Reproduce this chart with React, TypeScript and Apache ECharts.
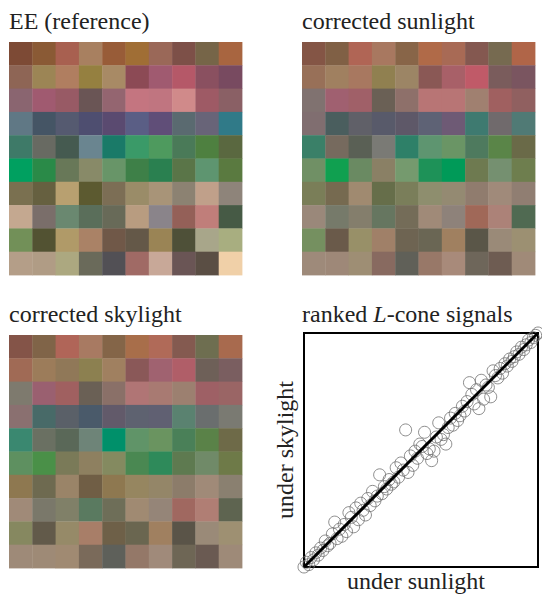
import React, { useEffect, useRef } from "react";
import * as echarts from "echarts";

const cellIndex = ["0", "1", "2", "3", "4", "5", "6", "7", "8", "9"];

const eeColors: string[][] = [
  ["#7d4a35", "#8a5a35", "#a86050", "#a88060", "#985c38", "#a06e35", "#9a6858", "#7d5048", "#766548", "#a86540"],
  ["#8e6555", "#9c8555", "#b07e60", "#958040", "#a88a65", "#8c4a55", "#a05a70", "#b55868", "#8a5060", "#784a60"],
  ["#8a6570", "#a05a70", "#985a65", "#6a5555", "#946570", "#c47580", "#c07580", "#d08a8a", "#9e5a65", "#8a6065"],
  ["#607885", "#455565", "#555a70", "#4e4e70", "#5a4a70", "#5a5e85", "#604e78", "#5a6a70", "#686478", "#307a88"],
  ["#3e7a68", "#686a62", "#455a50", "#6a8590", "#1a7a68", "#3a9a68", "#4e9a5e", "#4a7a58", "#4e8040", "#5a6840"],
  ["#00a060", "#2a8a48", "#687858", "#888a68", "#689568", "#3e8048", "#2a8050", "#5a7548", "#5e9570", "#5a7a40"],
  ["#7a7050", "#666040", "#b8a070", "#5c5a30", "#7c6e55", "#9a8c68", "#a89478", "#8c8272", "#c0a08a", "#8e847a"],
  ["#c4a890", "#7a6e6a", "#6a8870", "#5a6e5a", "#686a58", "#b89c80", "#8a848a", "#946058", "#c07e7a", "#465a45"],
  ["#729058", "#525232", "#b09a68", "#aa8266", "#705848", "#645848", "#9a8455", "#4e5038", "#a8a68a", "#a8ae80"],
  ["#b49e88", "#b09c85", "#aca880", "#6a6a5a", "#525055", "#a06a65", "#c8a898", "#6a5555", "#5a4e44", "#f0d0a8"],
];

const sunColors: string[][] = [
  ["#845545", "#806045", "#b06555", "#a87860", "#886548", "#b06a48", "#a86a55", "#845850", "#766a50", "#b06548"],
  ["#987058", "#a08060", "#a87860", "#908050", "#9c8565", "#8a5855", "#a86068", "#c05a68", "#7a5c5c", "#7a5560"],
  ["#807270", "#a06070", "#a06068", "#6a6055", "#8e706a", "#b87575", "#b87575", "#a08070", "#a06060", "#906060"],
  ["#806e70", "#4a5e5e", "#606068", "#585a6a", "#5e5868", "#5e6275", "#6e5a75", "#3e7a70", "#706a6c", "#507a75"],
  ["#3a8068", "#766a5e", "#5a6055", "#7a7a75", "#2e8068", "#5e9570", "#6a9565", "#4e7a5e", "#5a8548", "#6a6a48"],
  ["#709065", "#10a050", "#6a8a62", "#8a8065", "#759a6e", "#1e9258", "#009a58", "#6e7a50", "#759070", "#6e7e4e"],
  ["#7a7e58", "#766a50", "#a08a70", "#666e4a", "#7a7e5a", "#8e8e6e", "#948a72", "#907c6e", "#a08a7a", "#907e72"],
  ["#9a887a", "#767a6a", "#847e6c", "#667660", "#746c58", "#a08a78", "#8e827a", "#a06858", "#ac8278", "#506a52"],
  ["#759060", "#6a5a4a", "#989068", "#a08068", "#6e6452", "#6a6654", "#a08060", "#5a5648", "#9a8a78", "#9c9072"],
  ["#9e8a7a", "#9e8878", "#9e8e74", "#886a60", "#606058", "#987868", "#a88a7a", "#6e665a", "#6e5c52", "#a08a78"],
];

const skyColors: string[][] = [
  ["#845448", "#806448", "#b06558", "#a87a62", "#846548", "#a86e4a", "#b06a58", "#845a50", "#6e6e50", "#a86a4e"],
  ["#a06a55", "#9c7c5a", "#907858", "#8c8050", "#a08060", "#8a5858", "#a06270", "#b05e68", "#6e6058", "#7a5e60"],
  ["#7e7a6e", "#9a6070", "#a06060", "#6a6055", "#8a7068", "#b07575", "#a87a72", "#9c8070", "#9e6065", "#9a6565"],
  ["#8a7070", "#486a68", "#5a6068", "#4a5a6a", "#625a6a", "#5e6270", "#606072", "#5a8270", "#6a6e6e", "#7a7a72"],
  ["#3a8870", "#6a7062", "#5a6858", "#6e8478", "#00906a", "#609468", "#6a9460", "#4a8058", "#5a8248", "#6e6a48"],
  ["#5e9060", "#4a9048", "#7a7a58", "#8e8060", "#848a60", "#4a8852", "#2e8a5a", "#5e7a50", "#708a68", "#6e7a48"],
  ["#8e7850", "#6e6a50", "#9a8468", "#705e45", "#8e7850", "#968660", "#948668", "#8c7c6a", "#a08a78", "#8a8070"],
  ["#a08a78", "#7a786a", "#808068", "#5a7a60", "#6e6e58", "#a08a72", "#958578", "#a06860", "#b07e74", "#5e6450"],
  ["#868860", "#625a4a", "#968a68", "#a87e68", "#6e6048", "#6a6650", "#a08060", "#5a5448", "#9a8a78", "#9e9072"],
  ["#9e8a78", "#9e8a76", "#a08a72", "#7a6a5a", "#5e605a", "#947868", "#a08a7a", "#6e6655", "#6a5a52", "#9e8a78"],
];

const sunlightRanks = [
  1, 2, 3, 4, 5, 6, 7, 8, 9, 10,
  11, 12, 13, 14, 15, 16, 17, 18, 19, 20,
  21, 22, 23, 24, 25, 26, 27, 28, 29, 30,
  31, 32, 33, 34, 35, 36, 37, 38, 39, 40,
  41, 42, 43, 44, 45, 46, 47, 48, 49, 50,
  51, 52, 53, 54, 55, 56, 57, 58, 59, 60,
  61, 62, 63, 64, 65, 66, 67, 68, 69, 70,
  71, 72, 73, 74, 75, 76, 77, 78, 79, 80,
  81, 82, 83, 84, 85, 86, 87, 88, 89, 90,
  91, 92, 93, 94, 95, 96, 97, 98, 99, 100,
];

const skylightRanks = [
  1, 3, 2, 5, 4, 7, 6, 9, 8, 12,
  10, 11, 15, 20, 13, 17, 14, 19, 16, 24,
  22, 18, 26, 21, 28, 25, 23, 30, 27, 33,
  29, 31, 40, 32, 35, 34, 38, 36, 37, 43,
  39, 45, 42, 59, 41, 48, 44, 50, 47, 53,
  52, 58, 49, 51, 46, 50, 56, 62, 55, 57,
  53, 60, 64, 61, 66, 63, 65, 69, 67, 71,
  79, 74, 70, 76, 68, 80, 72, 78, 77, 73,
  84, 82, 81, 85, 83, 87, 86, 89, 88, 90,
  92, 91, 94, 93, 95, 97, 96, 98, 99, 100,
];

const panelTitles = ["EE (reference)", "corrected sunlight", "corrected skylight"];
const scatterTitle = "ranked {i|L}-cone signals";
const xLabel = "under sunlight";
const yLabel = "under skylight";

const FONT = "'Liberation Serif', 'DejaVu Serif', serif";

function cellData(colors: string[][]) {
  const d: any[] = [];
  colors.forEach((row, r) =>
    row.forEach((c, col) => d.push({ value: [col, r], itemStyle: { color: c } }))
  );
  return d;
}

function renderCell(_params: any, api: any) {
  const p = api.coord([api.value(0), api.value(1)]);
  const s = api.size([1, 1]);
  return {
    type: "rect",
    shape: { x: p[0] - s[0] / 2, y: p[1] - s[1] / 2, width: s[0] + 0.4, height: s[1] + 0.4 },
    style: { fill: api.visual("color") },
  };
}

export default function App() {
  const ref = useRef<HTMLDivElement>(null);
  useEffect(() => {
    if (!ref.current) return;
    const chart = echarts.init(ref.current, undefined, { renderer: "svg" });
    const heatGrids = [
      { left: 9, top: 42, width: 233, height: 233 },
      { left: 302, top: 42, width: 233, height: 233 },
      { left: 9, top: 335, width: 233, height: 233 },
    ];
    const allColors = [eeColors, sunColors, skyColors];
    const grid: any[] = heatGrids.map((g) => ({ ...g, show: false }));
    grid.push({
      left: 304, top: 333, width: 234, height: 234,
      show: true, borderColor: "#000", borderWidth: 2, backgroundColor: "transparent",
    });
    const xAxis: any[] = heatGrids.map((_, i) => ({
      type: "category", data: cellIndex, gridIndex: i, show: false,
    }));
    const yAxis: any[] = heatGrids.map((_, i) => ({
      type: "category", data: cellIndex, gridIndex: i, show: false, inverse: true,
    }));
    xAxis.push({ type: "value", gridIndex: 3, min: 1, max: 100, show: false });
    yAxis.push({ type: "value", gridIndex: 3, min: 1, max: 100, show: false });

    const series: any[] = allColors.map((cols, i) => ({
      type: "custom",
      xAxisIndex: i,
      yAxisIndex: i,
      data: cellData(cols),
      renderItem: renderCell,
      encode: { x: 0, y: 1 },
      silent: true,
    }));
    series.push({
      type: "scatter",
      xAxisIndex: 3,
      yAxisIndex: 3,
      data: sunlightRanks.map((x, i) => [x, skylightRanks[i]]),
      symbol: "circle",
      symbolSize: 12,
      clip: false,
      itemStyle: { color: "rgba(0,0,0,0)", borderColor: "#707070", borderWidth: 1 },
      z: 2,
    });
    series.push({
      type: "line",
      xAxisIndex: 3,
      yAxisIndex: 3,
      data: [
        [sunlightRanks[0], sunlightRanks[0]],
        [sunlightRanks[sunlightRanks.length - 1], sunlightRanks[sunlightRanks.length - 1]],
      ],
      symbol: "none",
      lineStyle: { color: "#000", width: 3 },
      z: 3,
    });

    const textBase = { fontFamily: FONT, fontSize: 24, fill: "#222" };
    const graphic: any[] = [
      { type: "text", left: 9, top: 9, style: { ...textBase, text: panelTitles[0] } },
      { type: "text", left: 302, top: 9, style: { ...textBase, text: panelTitles[1] } },
      { type: "text", left: 9, top: 302, style: { ...textBase, text: panelTitles[2] } },
      {
        type: "text", left: 302, top: 302,
        style: {
          ...textBase, text: scatterTitle,
          rich: { i: { fontFamily: FONT, fontSize: 24, fontStyle: "italic", fill: "#222" } },
        },
      },
      { type: "text", left: 347, top: 569, style: { ...textBase, text: xLabel } },
      {
        type: "text", x: 285, y: 450, rotation: Math.PI / 2,
        style: { ...textBase, text: yLabel, align: "center", verticalAlign: "middle" },
      },
    ];

    chart.setOption({
      animation: false,
      backgroundColor: "#fff",
      grid, xAxis, yAxis, series, graphic,
    });
    return () => chart.dispose();
  }, []);
  return (
    <div
      ref={ref}
      style={{ position: "fixed", left: 0, top: 0, width: 542, height: 597 }}
    />
  );
}
